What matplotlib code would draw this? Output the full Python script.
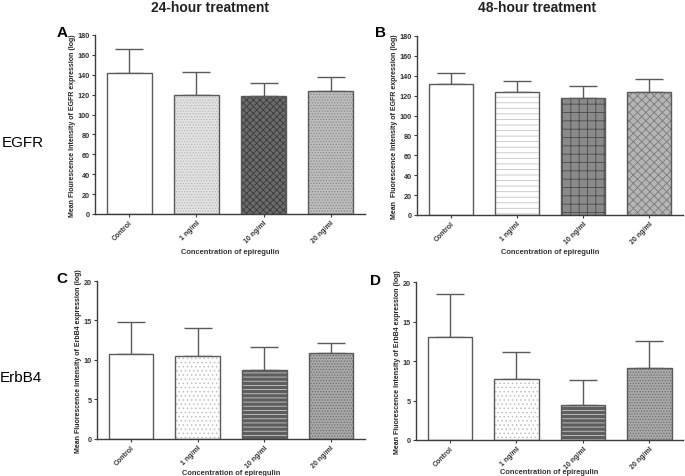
"""Epiregulin bar panels: EGFR / ErbB4 mean fluorescence after 24 h and 48 h."""

import matplotlib

matplotlib.use("Agg")
import matplotlib.pyplot as plt
import numpy as np

plt.rcParams.update({"font.family": "sans-serif",
                     "font.sans-serif": ["Liberation Sans", "DejaVu Sans"],
                     "hatch.linewidth": 0.6})
NARROW = ["Liberation Sans Narrow", "Liberation Sans", "DejaVu Sans"]

CATEGORIES = ["Control", "1 ng/ml", "10 ng/ml", "20 ng/ml"]

EGFR_24_MEAN = [142, 120, 119, 124]
EGFR_24_SD = [24, 23, 13, 14]
EGFR_48_MEAN = [132, 124, 118, 124]
EGFR_48_SD = [11, 11, 12, 13]
ERBB4_24_MEAN = [10.7, 10.5, 8.7, 10.9]
ERBB4_24_SD = [4.1, 3.6, 3.0, 1.3]
ERBB4_48_MEAN = [13.0, 7.7, 4.4, 9.1]
ERBB4_48_SD = [5.5, 3.4, 3.2, 3.5]

EDGE = "#5a5a5a"
AXIS = "#3c3c3c"

# (face, hatch, hatch colour) per bar, per panel
STYLE_A = [("white", "", None), ("#e2e2e2", "......", "#b8b8b8"),
           ("#6a6a6a", "xxxxx", "#3a3a3a"), ("#bdbdbd", "......", "#8a8a8a")]
STYLE_B = [("white", "", None), ("white", "---", "#c4c4c4"),
           ("#8a8a8a", "++", "#4a4a4a"), ("#b5b5b5", "xxxx", "#7a7a7a")]
STYLE_C = [("white", "", None), ("white", "....", "#bdbdbd"),
           ("#5e5e5e", "----", "#c8c8c8"), ("#a9a9a9", "......", "#6e6e6e")]

PANELS = [
    # letter, means, sds, ylabel, ylim, ticks, styles, axes rect,
    # letter position (fig frac), xlabel offset (axes frac)
    ("A", EGFR_24_MEAN, EGFR_24_SD,
     "Mean Flourescence Intensity of EGFR expression (log)", 180,
     np.arange(0, 181, 20), STYLE_A, [0.1387, 0.5493, 0.394, 0.3753],
     (0.083, 0.931), -0.212),
    ("B", EGFR_48_MEAN, EGFR_48_SD,
     "Mean  Fluorescence Intensity of EGFR expression (log)", 180,
     np.arange(0, 181, 20), STYLE_B, [0.6088, 0.5472, 0.388, 0.3753],
     (0.548, 0.931), -0.205),
    ("C", ERBB4_24_MEAN, ERBB4_24_SD,
     "Mean Fluorescence Intensity of ErbB4 expression (log)", 20,
     np.arange(0, 21, 5), STYLE_C, [0.1416, 0.0776, 0.391, 0.3312],
     (0.083, 0.415), -0.213),
    ("D", ERBB4_48_MEAN, ERBB4_48_SD,
     "Mean Fluorescence Intensity of ErbB4 expression (log)", 20,
     np.arange(0, 21, 5), STYLE_C, [0.6073, 0.0755, 0.390, 0.331],
     (0.540, 0.411), -0.2),
]

fig = plt.figure(figsize=(6.85, 4.77), dpi=100, facecolor="white")

for letter, means, sds, ylabel, ytop, ticks, styles, rect, lpos, xlab_y in PANELS:
    ax = fig.add_axes(rect)
    x = np.arange(len(CATEGORIES))
    ax.errorbar(x, means, yerr=[np.zeros(len(sds)), sds], fmt="none",
                ecolor=EDGE, elinewidth=1.0, capsize=10, capthick=1.0, zorder=1)
    for xi, m, (face, hatch, hcol) in zip(x, means, styles):
        ax.bar(xi, m, width=0.67, color=face, hatch=hatch or None,
               edgecolor=hcol if hcol else face, linewidth=0, zorder=2)
        ax.bar(xi, m, width=0.67, facecolor="none", edgecolor=EDGE,
               linewidth=1.0, zorder=3)
    ax.set_xlim(-0.51, 3.51)
    ax.set_ylim(0, ytop)
    ax.set_yticks(ticks)
    ax.set_xticks(x, CATEGORIES, rotation=45, ha="right",
                  rotation_mode="anchor")
    for side in ("top", "right"):
        ax.spines[side].set_visible(False)
    for side in ("left", "bottom"):
        ax.spines[side].set_color(AXIS)
        ax.spines[side].set_linewidth(1.0)
    ax.tick_params(colors=AXIS, length=2.5, width=0.8, pad=1.2)
    ax.tick_params(axis="x", pad=0.8)
    for lab in ax.get_xticklabels():
        lab.set(fontweight="bold", color="#333333", family=NARROW, fontsize=5.0)
    for lab in ax.get_yticklabels():
        lab.set(fontweight="bold", color="#333333", family=NARROW, fontsize=5.2)
    ax.set_ylabel(ylabel, fontsize=5.0, fontweight="bold", color="#222222",
                  labelpad=1.0)
    ax.set_xlabel("Concentration of epiregulin", fontsize=5.4,
                  fontweight="bold", color="#333333")
    ax.xaxis.set_label_coords(0.5, xlab_y)
    ax.xaxis.label.set_va("center")
    fig.text(lpos[0], lpos[1], letter, fontsize=11, fontweight="bold",
             ha="left", va="center")

fig.text(0.307, 0.983, "24-hour treatment", fontsize=10, fontweight="bold",
         ha="center", va="center", color="#222222")
fig.text(0.784, 0.983, "48-hour treatment", fontsize=10, fontweight="bold",
         ha="center", va="center", color="#222222")
fig.text(0.003, 0.70, "EGFR", fontsize=11, ha="left", va="center")
fig.text(0.0, 0.207, "ErbB4", fontsize=11, ha="left", va="center")

fig.savefig("out.png", dpi=100, facecolor="white")
